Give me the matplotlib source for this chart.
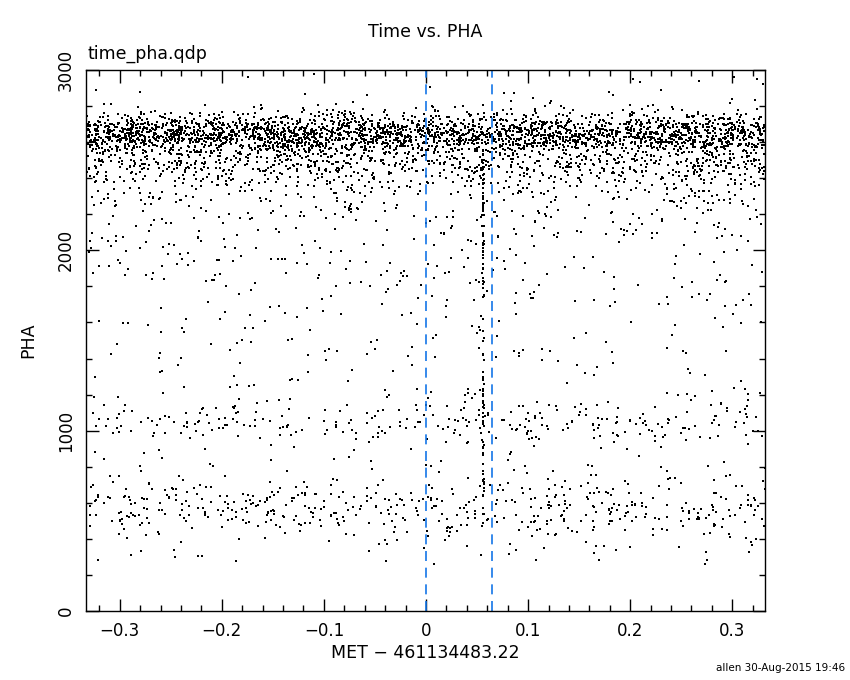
import numpy as np
import matplotlib
matplotlib.use("Agg")
import matplotlib.pyplot as plt
from matplotlib.ticker import MultipleLocator

# ---------------- DATA ----------------
# event list is too dense to read point by point, so the PHA structure is
# described by bands (centre, spread, number of events) estimated from the plot
t_min, t_max = -0.333, 0.332
band_pha = [2650, 2600, 1050, 570]
band_sigma = [50, 90, 60, 85]
band_count = [1700, 1600, 260, 430]

# tail below the main band (exponential fall-off from its lower edge)
tail_start = 2500
tail_scale = 220
tail_count = 800

# sparse flat background
bg_lo = [1100, 250, 2800]
bg_hi = [2000, 1000, 2980]
bg_count = [220, 150, 20]

# vertical streak of events at one instant
streak_t = 0.056
streak_lo, streak_hi = 480, 2560
streak_count = 110

vlines_t = [0.0, 0.0647]

title = "Time vs. PHA"
file_label = "time_pha.qdp"
x_label = "MET \u2212 461134483.22"
y_label = "PHA"
stamp = "allen 30-Aug-2015 19:46"

# ---------------- BUILD EVENTS ----------------
rng = np.random.default_rng(7)
ts, phas = [], []
for c, s, n in zip(band_pha, band_sigma, band_count):
    ts.append(rng.uniform(t_min, t_max, n))
    phas.append(rng.normal(c, s, n))
ts.append(rng.uniform(t_min, t_max, tail_count))
phas.append(tail_start - rng.exponential(tail_scale, tail_count))
for lo, hi, n in zip(bg_lo, bg_hi, bg_count):
    ts.append(rng.uniform(t_min, t_max, n))
    phas.append(rng.uniform(lo, hi, n))
ts.append(streak_t + rng.normal(0, 0.0004, streak_count))
phas.append(rng.uniform(streak_lo, streak_hi, streak_count))

t = np.concatenate(ts)
pha = np.concatenate(phas)
keep = (pha > 150) & (pha < 2990)
t, pha = t[keep], pha[keep]

# ---------------- PLOT ----------------
fig = plt.figure(figsize=(8.5, 6.8), dpi=100)
ax = fig.add_axes([86 / 850, 69 / 680, 679 / 850, 541 / 680])

ax.scatter(t, pha, s=1.1, marker="s", c="black", linewidths=0)
for v in vlines_t:
    ax.axvline(v, color="#1476e8", lw=1.2, linestyle=(0, (6, 4)))

ax.set_xlim(t_min, t_max)
ax.set_ylim(0, 3000)
ax.xaxis.set_major_locator(MultipleLocator(0.1))
ax.xaxis.set_minor_locator(MultipleLocator(0.02))
ax.yaxis.set_major_locator(MultipleLocator(1000))
ax.yaxis.set_minor_locator(MultipleLocator(200))
ax.tick_params(which="both", direction="in", top=True, right=True,
               labelsize=12, width=1, pad=8)
ax.tick_params(which="major", length=9)
ax.tick_params(which="minor", length=4.5)
ax.xaxis.set_major_formatter(lambda v, p: f"{v:.1f}".replace("-", "\u2212")
                             if abs(v) > 1e-9 else "0")
for lab in ax.get_yticklabels():
    lab.set_rotation(90)
    lab.set_va("center")
for sp in ax.spines.values():
    sp.set_linewidth(1)

ax.set_xlabel(x_label, fontsize=12.5, labelpad=3)
ax.set_ylabel(y_label, fontsize=12.5, labelpad=14)
fig.text(425 / 850, 1 - 32 / 680, title, ha="center", va="center", fontsize=12.5)
fig.text(88 / 850, 1 - 54 / 680, file_label, ha="left", va="center", fontsize=12.5)
fig.text(845 / 850, 1 - 668 / 680, stamp, ha="right", va="center", fontsize=7.5)

fig.savefig("out.png", dpi=100)
